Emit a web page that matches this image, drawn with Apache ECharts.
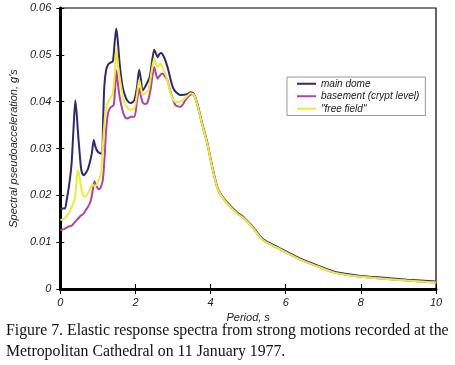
<!DOCTYPE html>
<html>
<head>
<meta charset="utf-8">
<script src="https://cdn.jsdelivr.net/npm/echarts@6/dist/echarts.min.js"></script>
<style>
  html, body { margin: 0; padding: 0; background: #fff; }
  #chart { width: 455px; height: 365px; }
</style>
</head>
<body>
<div id="chart"></div>
<script>
(function () {
  "use strict";
  // [period s, SA g]
  const mainDome = [
    [0, 0.0172], [0.12, 0.0172], [0.17, 0.0190], [0.24, 0.0225], [0.30, 0.0268], [0.35, 0.0340],
    [0.40, 0.0403], [0.44, 0.0370], [0.47, 0.0335], [0.52, 0.0285], [0.56, 0.0254], [0.62, 0.0243],
    [0.68, 0.0248], [0.74, 0.0257], [0.80, 0.0275], [0.84, 0.0290], [0.89, 0.0318], [0.93, 0.0305],
    [0.98, 0.0295], [1.05, 0.0290], [1.11, 0.0289], [1.14, 0.0360], [1.17, 0.0431], [1.22, 0.0468],
    [1.28, 0.0480], [1.35, 0.0484], [1.40, 0.0486], [1.44, 0.0520], [1.49, 0.0556], [1.53, 0.0530],
    [1.58, 0.0481], [1.66, 0.0431], [1.75, 0.0407], [1.82, 0.0399], [1.88, 0.0397], [1.97, 0.0403],
    [2.04, 0.0431], [2.10, 0.0468], [2.15, 0.0445], [2.19, 0.0424], [2.28, 0.0435], [2.38, 0.0453],
    [2.44, 0.0485], [2.50, 0.0511], [2.55, 0.0502], [2.59, 0.0495], [2.64, 0.0502], [2.69, 0.0504],
    [2.75, 0.0497], [2.81, 0.0485], [2.88, 0.0466], [2.94, 0.0446], [3.00, 0.0430], [3.07, 0.0421],
    [3.20, 0.0414], [3.30, 0.0415], [3.38, 0.0416], [3.47, 0.0420], [3.55, 0.0417], [3.64, 0.0398],
    [3.77, 0.0355], [3.91, 0.0313], [4.04, 0.0263], [4.17, 0.0220], [4.26, 0.0204], [4.43, 0.0186],
    [4.70, 0.0164], [4.87, 0.0154], [5.09, 0.0136], [5.40, 0.0106], [5.80, 0.0089], [6.41, 0.0064],
    [6.85, 0.0050], [7.29, 0.0037], [7.99, 0.0028], [8.61, 0.0024], [9.23, 0.0020], [10.0, 0.0016],
  ];
  const basement = [
    [0, 0.0126], [0.10, 0.0128], [0.21, 0.0133], [0.30, 0.0135], [0.40, 0.0144], [0.47, 0.0150],
    [0.55, 0.0157], [0.61, 0.0160], [0.69, 0.0170], [0.77, 0.0180], [0.83, 0.0195], [0.87, 0.0215],
    [0.91, 0.0230], [0.96, 0.0220], [1.02, 0.0213], [1.07, 0.0216], [1.13, 0.0232], [1.18, 0.0282],
    [1.22, 0.0339], [1.27, 0.0375], [1.33, 0.0387], [1.42, 0.0393], [1.46, 0.0430], [1.49, 0.0467],
    [1.53, 0.0440], [1.58, 0.0410], [1.66, 0.0380], [1.73, 0.0366], [1.79, 0.0364], [1.88, 0.0368],
    [1.97, 0.0368], [2.04, 0.0400], [2.10, 0.0428], [2.15, 0.0410], [2.19, 0.0399], [2.26, 0.0395],
    [2.32, 0.0398], [2.40, 0.0425], [2.50, 0.0474], [2.55, 0.0458], [2.59, 0.0449], [2.65, 0.0456],
    [2.72, 0.0460], [2.80, 0.0452], [2.85, 0.0446], [2.92, 0.0425], [2.98, 0.0410], [3.07, 0.0392],
    [3.20, 0.0389], [3.33, 0.0403], [3.42, 0.0412], [3.50, 0.0416], [3.55, 0.0415], [3.64, 0.0396],
    [3.77, 0.0353], [3.91, 0.0311], [4.04, 0.0261], [4.17, 0.0218], [4.26, 0.0202], [4.43, 0.0184],
    [4.70, 0.0162], [4.87, 0.0152], [5.09, 0.0134], [5.40, 0.0104], [5.80, 0.0087], [6.41, 0.0062],
    [6.85, 0.0048], [7.29, 0.0035], [7.99, 0.0026], [8.61, 0.0022], [9.23, 0.0018], [10.0, 0.0014],
  ];
  const freeField = [
    [0, 0.0147], [0.10, 0.0150], [0.17, 0.0156], [0.25, 0.0165], [0.33, 0.0180], [0.39, 0.0195],
    [0.43, 0.0230], [0.47, 0.0254], [0.52, 0.0235], [0.57, 0.0210], [0.61, 0.0200], [0.67, 0.0197],
    [0.74, 0.0205], [0.83, 0.0220], [0.88, 0.0222], [0.92, 0.0219], [1.00, 0.0229], [1.06, 0.0240],
    [1.09, 0.0250], [1.13, 0.0303], [1.18, 0.0360], [1.23, 0.0390], [1.31, 0.0405], [1.39, 0.0415],
    [1.45, 0.0460], [1.49, 0.0513], [1.54, 0.0475], [1.62, 0.0431], [1.70, 0.0400], [1.78, 0.0388],
    [1.88, 0.0382], [1.97, 0.0386], [2.04, 0.0415], [2.10, 0.0446], [2.15, 0.0428], [2.19, 0.0414],
    [2.27, 0.0418], [2.35, 0.0426], [2.44, 0.0470], [2.50, 0.0492], [2.55, 0.0480], [2.59, 0.0474],
    [2.67, 0.0481], [2.74, 0.0470], [2.81, 0.0456], [2.88, 0.0436], [2.94, 0.0417], [3.00, 0.0405],
    [3.07, 0.0399], [3.17, 0.0400], [3.25, 0.0403], [3.38, 0.0412], [3.47, 0.0418], [3.55, 0.0415],
    [3.64, 0.0396], [3.77, 0.0353], [3.91, 0.0311], [4.04, 0.0261], [4.17, 0.0218], [4.26, 0.0202],
    [4.43, 0.0184], [4.70, 0.0162], [4.87, 0.0152], [5.09, 0.0134], [5.40, 0.0104], [5.80, 0.0087],
    [6.41, 0.0062], [6.85, 0.0048], [7.29, 0.0035], [7.99, 0.0026], [8.61, 0.0022], [9.23, 0.0018],
    [10.0, 0.0014],
  ];
  const seriesNames = ["main dome", "basement (crypt level)", "\"free field\""];
  const xTicks = [0, 10, 2];      // min, max, interval
  const yTicks = [0, 0.06, 0.01];
  const caption = [
    "Figure 7. Elastic response spectra from strong motions recorded at the",
    "Metropolitan Cathedral on 11 January 1977.",
  ];

  const chart = echarts.init(document.getElementById("chart"));
  const axisFont = { fontFamily: "Liberation Sans", fontStyle: "italic", fontSize: 11, color: "#222" };
  const line = (name, data, color) => ({
    name, type: "line", data, showSymbol: false, smooth: 0.25,
    lineStyle: { color, width: 2 }, itemStyle: { color },
  });

  chart.setOption({
    animation: false,
    grid: { left: 57, right: 19, top: 8, bottom: 76, show: true, borderColor: "#000", borderWidth: 1.2 },
    legend: {
      orient: "vertical", left: 287, top: 77, padding: [1, 6, 1, 10],
      backgroundColor: "#fff", borderColor: "#999", borderWidth: 1,
      itemWidth: 19, itemHeight: 2, itemGap: 1, icon: "rect",
      textStyle: { fontFamily: "Liberation Sans", fontStyle: "italic", fontSize: 10, color: "#222", lineHeight: 11.5 },
      data: seriesNames,
    },
    xAxis: [
      {
        type: "value", min: xTicks[0], max: xTicks[1], interval: xTicks[2],
        name: "Period, s", nameLocation: "middle", nameGap: 21, nameTextStyle: axisFont,
        axisLine: { show: true, onZero: false, lineStyle: { color: "#000", width: 3 } },
        axisTick: { show: true, length: 5, lineStyle: { color: "#000", width: 1 } },
        axisLabel: Object.assign({ margin: 8 }, axisFont),
        splitLine: { show: false },
      },
      {
        type: "value", min: xTicks[0], max: xTicks[1], interval: xTicks[2], position: "bottom",
        axisLine: { show: false },
        axisTick: { show: true, inside: true, length: 5, lineStyle: { color: "#000", width: 1 } },
        axisLabel: { show: false }, splitLine: { show: false },
      },
    ],
    yAxis: [
      {
        type: "value", min: yTicks[0], max: yTicks[1], interval: yTicks[2],
        name: "Spectral pseudoacceleration, g's", nameLocation: "middle", nameGap: 37, nameTextStyle: axisFont,
        axisLine: { show: true, onZero: false, lineStyle: { color: "#000", width: 3 } },
        axisTick: { show: true, length: 4, lineStyle: { color: "#000", width: 1 } },
        axisLabel: Object.assign({ margin: 9, formatter: v => v === 0 ? "0" : v.toFixed(2) }, axisFont),
        splitLine: { show: false },
      },
      {
        type: "value", min: yTicks[0], max: yTicks[1], interval: yTicks[2], position: "left",
        axisLine: { show: false },
        axisTick: { show: true, inside: true, length: 4, lineStyle: { color: "#000", width: 1 } },
        axisLabel: { show: false }, splitLine: { show: false },
      },
    ],
    graphic: caption.map((t, i) => ({
      type: "text", x: 6, y: 331 + i * 21,
      style: { text: t, fontFamily: "Liberation Serif", fontSize: 15.8, fill: "#111", verticalAlign: "middle" },
    })),
    series: [
      line(seriesNames[0], mainDome, "#2e2b6c"),
      line(seriesNames[1], basement, "#b0449f"),
      line(seriesNames[2], freeField, "#eeea3c"),
    ],
  });
})();
</script>
</body>
</html>
